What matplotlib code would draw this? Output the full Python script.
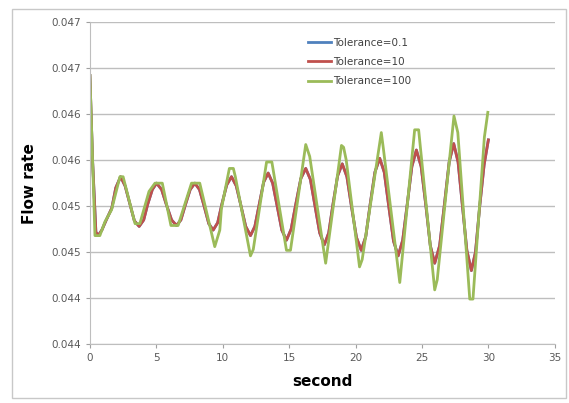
import matplotlib.pyplot as plt
from matplotlib.patches import Rectangle

# flow rate vs time for three solver tolerances
t_tol10 = [0, 0.2, 0.45, 0.62, 0.9, 1.2, 1.65, 1.95, 2.31, 2.65, 3.0, 3.35, 3.71, 4.05, 4.35,
           4.7, 5.02, 5.4, 5.75, 6.15, 6.52, 6.85, 7.2, 7.55, 7.9, 8.25, 8.6, 8.95, 9.28,
           9.62, 9.95, 10.3, 10.66, 11.02, 11.38, 11.73, 12.09, 12.42, 12.75, 13.08, 13.42,
           13.76, 14.1, 14.45, 14.8, 15.15, 15.5, 15.88, 16.25, 16.6, 16.95, 17.3, 17.65,
           17.98, 18.3, 18.65, 19.0, 19.35, 19.7, 20.07, 20.43, 20.77, 21.1, 21.46, 21.82,
           22.16, 22.5, 22.86, 23.21, 23.55, 23.9, 24.24, 24.58, 24.94, 25.3, 25.63, 25.96,
           26.33, 26.7, 27.05, 27.39, 27.72, 28.05, 28.38, 28.72, 29.03, 29.35, 29.68, 30.0]
flow_tol10 = [0.04692, 0.0460, 0.04522, 0.04518, 0.04524, 0.04534, 0.04548, 0.04570, 0.04582,
              0.04572, 0.04553, 0.04534, 0.04528, 0.04535, 0.04552, 0.04568, 0.04575, 0.04568,
              0.04552, 0.04535, 0.04529, 0.04535, 0.04552, 0.04568, 0.04575, 0.04568, 0.04550,
              0.04531, 0.04524, 0.04532, 0.04553, 0.04573, 0.04582, 0.04572, 0.04550, 0.04528,
              0.04518, 0.04528, 0.04552, 0.04576, 0.04586, 0.04575, 0.04550, 0.04524, 0.04513,
              0.04525, 0.04552, 0.04580, 0.04591, 0.04579, 0.04550, 0.04521, 0.04508, 0.04521,
              0.04552, 0.04583, 0.04596, 0.04582, 0.04549, 0.04516, 0.04502, 0.04517, 0.04552,
              0.04587, 0.04602, 0.04587, 0.04550, 0.04512, 0.04496, 0.04513, 0.04553, 0.04593,
              0.04611, 0.04593, 0.04550, 0.04507, 0.04488, 0.04507, 0.04553, 0.04598, 0.04618,
              0.04598, 0.04550, 0.04502, 0.04480, 0.04500, 0.04550, 0.04595, 0.04622]

# tolerance 0.1 lies exactly under the tolerance 10 curve
t_tol01 = t_tol10
flow_tol01 = flow_tol10

t_tol100 = [0, 0.38, 0.75, 1.13, 1.63, 2.26, 2.5, 3.4, 3.76, 4.45, 4.9, 5.45, 6.1, 6.64, 7.65,
            8.27, 9.4, 9.78, 9.9, 10.5, 10.8, 10.95, 12.09, 12.3, 13.3, 13.7, 14.8, 15.1,
            16.25, 16.55, 17.75, 18.94, 19.1, 19.3, 20.3, 20.5, 21.94, 22.1, 23.33, 24.45,
            24.75, 25.96, 26.15, 27.41, 27.7, 28.6, 28.84, 29.7, 29.96]
flow_tol100 = [0.04692, 0.04518, 0.04518, 0.04533, 0.04546, 0.04582, 0.04582, 0.04531, 0.04531,
               0.04566, 0.04575, 0.04575, 0.04529, 0.04529, 0.04575, 0.04575, 0.04506, 0.04524,
               0.04547, 0.04591, 0.04591, 0.04582, 0.04496, 0.04503, 0.04598, 0.04598, 0.04502,
               0.04502, 0.04617, 0.04604, 0.04488, 0.04616, 0.04614, 0.04600, 0.04484, 0.04492,
               0.04630, 0.04612, 0.04467, 0.04633, 0.04633, 0.04459, 0.04470, 0.04648, 0.04630,
               0.04449, 0.04449, 0.04625, 0.04652]

y_ticks = [0.0440, 0.0445, 0.0450, 0.0455, 0.0460, 0.0465, 0.0470, 0.0475]
y_labels = ['0.044', '0.044', '0.045', '0.045', '0.046', '0.046', '0.047', '0.047']
x_ticks = [0, 5, 10, 15, 20, 25, 30, 35]

fig = plt.figure(figsize=(5.69, 4.03), dpi=100)
ax = fig.add_axes([0.158, 0.146, 0.817, 0.799])

# grey frame round the whole chart
fig.patches.append(Rectangle((0.021, 0.012), 0.974, 0.965, transform=fig.transFigure,
                             fill=False, edgecolor='#C8C8C8', lw=1))

ax.plot(t_tol01, flow_tol01, color='#4F81BD', lw=2, label='Tolerance=0.1')
ax.plot(t_tol10, flow_tol10, color='#C0504D', lw=2, label='Tolerance=10')
ax.plot(t_tol100, flow_tol100, color='#9BBB59', lw=2, label='Tolerance=100')

ax.set_xlim(0, 35)
ax.set_ylim(0.0440, 0.0475)
ax.set_xticks(x_ticks)
ax.set_yticks(y_ticks)
ax.set_yticklabels(y_labels)
ax.tick_params(labelsize=7.5, labelcolor='#595959', color='#A0A0A0', length=3)
ax.grid(axis='y', color='#BEBEBE', lw=1)
ax.set_axisbelow(True)

for side in ['top', 'right']:
    ax.spines[side].set_visible(False)
for side in ['left', 'bottom']:
    ax.spines[side].set_color('#BEBEBE')

ax.set_xlabel('second', fontsize=11, fontweight='bold', labelpad=8)
ax.set_ylabel('Flow rate', fontsize=11, fontweight='bold', labelpad=10)

fig.legend(loc='upper left', bbox_to_anchor=(0.525, 0.93), frameon=False, fontsize=7.5,
           handlelength=2.2, handletextpad=0.2, labelspacing=0.9, labelcolor='#404040')

plt.savefig('out.png', dpi=100)
